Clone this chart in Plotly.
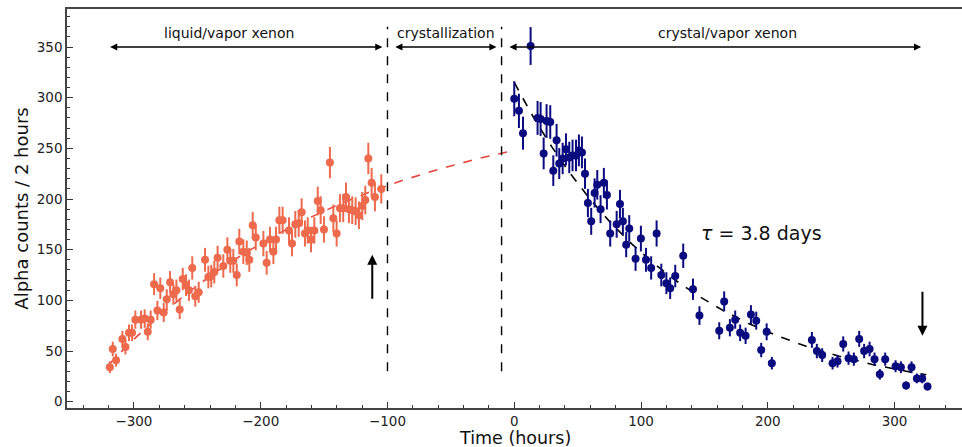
import numpy as np
import plotly.graph_objects as go

# ---- liquid/vapor xenon phase (hours, alpha counts per 2 h bin) ----
liquid_time = [-319.0, -316.7, -314.1, -309.1, -306.7, -303.9, -301.5, -298.9, -294.4, -291.5,
               -289.1, -286.8, -284.1, -281.5, -279.2, -276.5, -274.1, -271.5, -268.9, -266.5,
               -263.9, -261.5, -258.9, -256.6, -254.0, -251.6, -248.9, -243.9, -241.3, -239.0,
               -236.6, -234.0, -229.5, -226.3, -224.0, -221.6, -218.9, -216.9, -213.7, -211.0,
               -209.0, -206.3, -203.9, -197.9, -195.3, -192.7, -190.0, -187.9, -185.3, -182.7,
               -177.7, -175.3, -172.7, -170.0, -167.7, -165.1, -162.9, -160.3, -157.7, -155.0,
               -152.7, -150.1, -145.4, -142.7, -140.1, -137.5, -134.9, -132.7, -130.4, -127.8,
               -125.1, -122.5, -119.9, -117.5, -115.1, -112.5, -109.9, -104.9]
liquid_counts = [34, 52, 41, 62, 54, 68, 68, 81, 81, 82,
                 69, 81, 116, 90, 112, 88, 101, 118, 106, 110,
                 91, 121, 115, 110, 132, 104, 108, 140, 123, 124,
                 128, 142, 134, 150, 139, 139, 125, 158, 148, 147,
                 140, 174, 162, 156, 137, 160, 148, 160, 179, 179,
                 169, 156, 175, 176, 187, 166, 169, 160, 169, 198,
                 189, 170, 236, 181, 166, 191, 191, 202, 190, 189,
                 188, 184, 193, 199, 240, 216, 202, 210]
liquid_err = [5.8, 7.2, 6.4, 7.9, 7.3, 8.2, 8.2, 9.0, 9.0, 9.1,
              8.3, 9.0, 10.8, 9.5, 10.6, 9.4, 10.0, 10.9, 10.3, 10.5,
              9.5, 11.0, 10.7, 10.5, 11.5, 10.2, 10.4, 11.8, 11.1, 11.1,
              11.3, 11.9, 11.6, 12.2, 11.8, 11.8, 11.2, 12.6, 12.2, 12.1,
              11.8, 13.2, 12.7, 12.5, 11.7, 12.6, 12.2, 12.6, 13.4, 13.4,
              13.0, 12.5, 13.2, 13.3, 13.7, 12.9, 13.0, 12.6, 13.0, 14.1,
              13.7, 13.0, 15.4, 13.5, 12.9, 13.8, 13.8, 14.2, 13.8, 13.7,
              13.7, 13.6, 13.9, 14.1, 15.5, 14.7, 14.2, 14.5]

# ---- crystal/vapor xenon phase ----
crystal_time = [0.0, 3.7, 6.9, 12.9, 18.4, 20.8, 23.2, 25.5, 28.4, 30.8,
                33.4, 35.5, 38.2, 40.8, 43.4, 46.0, 48.7, 51.0, 53.4, 55.8,
                58.1, 60.7, 63.4, 65.5, 68.1, 70.7, 73.1, 75.7, 80.8, 83.4,
                85.7, 88.3, 90.7, 95.7, 99.9, 103.9, 108.0, 112.3, 116.0, 120.0,
                123.0, 127.0, 133.3, 141.0, 146.1, 161.7, 165.6, 170.1, 174.3, 178.2,
                182.5, 186.7, 190.9, 194.8, 199.1, 203.2, 234.8, 238.7, 242.9, 251.1,
                255.0, 259.5, 263.7, 267.9, 272.1, 276.0, 280.3, 284.2, 288.4, 292.6,
                300.8, 305.0, 309.1, 313.4, 317.6, 321.8, 326.0]
crystal_counts = [299, 287, 265, 351, 280, 279, 245, 277, 276, 228,
                  258, 235, 240, 249, 241, 243, 243, 248, 246, 225,
                  196, 178, 206, 214, 190, 216, 204, 166, 175, 195,
                  178, 155, 171, 141, 161, 140, 132, 166, 125, 117,
                  112, 124, 144, 111, 85, 70, 99, 73, 81, 68,
                  65, 86, 80, 51, 69, 38, 61, 50, 46, 38,
                  40, 57, 43, 42, 62, 50, 52, 42, 27, 42,
                  35, 34, 16, 34, 23, 23, 15]
crystal_err = [17.3, 16.9, 16.3, 18.7, 16.7, 16.7, 15.7, 16.6, 16.6, 15.1,
               16.1, 15.3, 15.5, 15.8, 15.5, 15.6, 15.6, 15.7, 15.7, 15.0,
               14.0, 13.3, 14.4, 14.6, 13.8, 14.7, 14.3, 12.9, 13.2, 14.0,
               13.3, 12.4, 13.1, 11.9, 12.7, 11.8, 11.5, 12.9, 11.2, 10.8,
               10.6, 11.1, 12.0, 10.5, 9.2, 8.4, 9.9, 8.5, 9.0, 8.2,
               8.1, 9.3, 8.9, 7.1, 8.3, 6.2, 7.8, 7.1, 6.8, 6.2,
               6.3, 7.5, 6.6, 6.5, 7.9, 7.1, 7.2, 6.5, 5.2, 6.5,
               5.9, 5.8, 4.0, 5.8, 4.8, 4.8, 3.9]

# ---- fit models ----
half_life_days = 3.8
decay_N0 = 315.0                     # counts at t = 0 for the decay fit
decay_span = (0.0, 325.0)
growth_A, growth_B, growth_T = 301.5, 53.5, 200.0   # A - B exp(-t/T)
growth_span = (-320.0, 0.0)

phase_bounds = [-100, -10]
phase_labels = ["liquid/vapor xenon", "crystallization", "crystal/vapor xenon"]
phase_arrows = [(-320, -104), (-95, -14), (-5, 321)]
phase_label_x = [-225, -54, 168]

ORANGE = "#EE6A4C"
NAVY = "#0B0B80"

t_grow = np.linspace(*growth_span, 200)
n_grow = growth_A - growth_B * np.exp(-t_grow / growth_T)
t_dec = np.linspace(*decay_span, 200)
n_dec = decay_N0 * 2.0 ** (-t_dec / (half_life_days * 24.0))

fig = go.Figure()

fig.add_trace(go.Scatter(x=t_grow, y=n_grow, mode="lines",
                         line=dict(color="#E8453C", width=1.6, dash="dash"),
                         hoverinfo="skip"))
fig.add_trace(go.Scatter(x=t_dec, y=n_dec, mode="lines",
                         line=dict(color="black", width=1.6, dash="dash"),
                         hoverinfo="skip"))

for xb in phase_bounds:
    fig.add_trace(go.Scatter(x=[xb, xb], y=[30, 370], mode="lines",
                             line=dict(color="black", width=1.4, dash="dash"),
                             hoverinfo="skip"))

fig.add_trace(go.Scatter(x=liquid_time, y=liquid_counts, mode="markers",
                         marker=dict(color=ORANGE, size=8),
                         error_y=dict(type="data", array=liquid_err, color=ORANGE,
                                      thickness=2, width=0)))
fig.add_trace(go.Scatter(x=crystal_time, y=crystal_counts, mode="markers",
                         marker=dict(color=NAVY, size=8),
                         error_y=dict(type="data", array=crystal_err, color=NAVY,
                                      thickness=2, width=0)))

# phase labels with double-headed arrows
for label, (x0, x1), xl in zip(phase_labels, phase_arrows, phase_label_x):
    fig.add_annotation(x=x1, y=350, ax=x0, ay=350, xref="x", yref="y",
                       axref="x", ayref="y", text="", showarrow=True,
                       arrowhead=2, arrowside="end+start", arrowsize=1.1,
                       arrowwidth=1.3, arrowcolor="black")
    fig.add_annotation(x=xl, y=364, text=label, showarrow=False,
                       font=dict(size=14, color="#111"))

# markers of interest
fig.add_annotation(x=-112, y=145, ax=-112, ay=100, xref="x", yref="y",
                   axref="x", ayref="y", text="", showarrow=True,
                   arrowhead=2, arrowsize=1.0, arrowwidth=2, arrowcolor="black")
fig.add_annotation(x=322, y=65, ax=322, ay=110, xref="x", yref="y",
                   axref="x", ayref="y", text="", showarrow=True,
                   arrowhead=2, arrowsize=1.0, arrowwidth=2, arrowcolor="black")

fig.add_annotation(x=195, y=166, text="<i>τ</i> = 3.8 days", showarrow=False,
                   font=dict(size=19, color="#111"))

# x-axis title placed just beneath the tick labels
fig.add_annotation(x=0.5, y=0, xref="paper", yref="paper", yshift=-30,
                   text="Time (hours)", showarrow=False, yanchor="middle",
                   font=dict(size=17.5, color="#111"))

axis_common = dict(showgrid=False, zeroline=False, showline=True,
                   linecolor="#444", linewidth=1.5, ticks="inside",
                   tickcolor="#333", tickwidth=1.2, ticklen=6,
                   tickfont=dict(size=13.5, color="#222"))

fig.update_xaxes(range=[-352.8, 353.2], dtick=100, mirror=True,
                 minor=dict(dtick=20, ticks="inside", ticklen=3, tickcolor="#333"),
                 **axis_common)
fig.update_yaxes(range=[-6.2, 387.5], dtick=50,
                 minor=dict(dtick=10, ticks="inside", ticklen=3, tickcolor="#333"),
                 title=dict(text="Alpha counts / 2 hours",
                            font=dict(size=18, color="#111"), standoff=3),
                 **axis_common)

fig.update_layout(width=962, height=447, showlegend=False,
                  margin=dict(l=67, r=0, t=9, b=39),
                  plot_bgcolor="white", paper_bgcolor="white",
                  font=dict(family="DejaVu Sans"))

fig.write_html("out.html")
